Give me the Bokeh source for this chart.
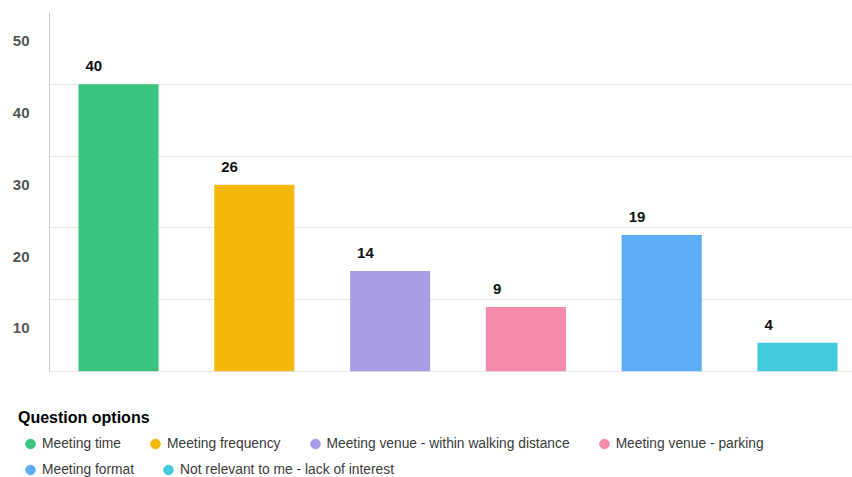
import numpy as np
from bokeh.plotting import figure
from bokeh.layouts import column
from bokeh.core.properties import value
from bokeh.models import (ColumnDataSource, Range1d, LinearAxis, FixedTicker, Grid,
                          LabelSet, Legend, LegendItem, Span)
from bokeh.embed import file_html
from bokeh.resources import INLINE

categories = ["Meeting time", "Meeting frequency",
              "Meeting venue - within walking distance", "Meeting venue - parking",
              "Meeting format", "Not relevant to me - lack of interest"]
counts = [40, 26, 14, 9, 19, 4]
colors = ["#3cc47f", "#f4b70c", "#a99ee6", "#f48bab", "#5eacf6", "#43cadc"]
y_ticks = [10, 20, 30, 40, 50]
grid_ticks = [0, 10, 20, 30, 40, 50]
legend_title = "Question options"

FONT = "Liberation Sans"
pos = list(range(len(categories)))

src = ColumnDataSource(dict(
    x=pos, top=counts, color=colors, cat=categories,
    lab=[str(c) for c in counts], nan=np.full(len(categories), np.nan)))

# ---------------- chart ----------------
p = figure(width=852, height=373,
           x_range=Range1d(-0.508, 5.405), y_range=Range1d(0, 50),
           x_axis_location=None, y_axis_location=None,
           toolbar_location=None, output_backend="svg",
           min_border_left=49, min_border_right=0,
           min_border_top=12, min_border_bottom=2)
p.outline_line_color = None
p.background_fill_color = "white"
p.border_fill_color = "white"
for g in p.xgrid + p.ygrid:
    g.visible = False

p.add_layout(Grid(dimension=1, ticker=FixedTicker(ticks=grid_ticks),
                  grid_line_color="#e6e6e6", grid_line_width=1))
p.add_layout(Span(location=0, dimension="width", line_color="#cfcfcf", line_width=1))

# y labels sit slightly below their gridlines, as in the reference
p.extra_y_ranges = {"lab": Range1d(4, 54)}
yax = LinearAxis(y_range_name="lab", ticker=FixedTicker(ticks=y_ticks),
                 axis_line_color="#cccccc", axis_line_width=1,
                 major_tick_line_color=None, minor_tick_line_color=None,
                 major_tick_in=0, major_tick_out=0, major_label_standoff=20,
                 major_label_text_font=FONT, major_label_text_font_size="15px",
                 major_label_text_font_style="bold", major_label_text_color="#555555")
p.add_layout(yax, "left")

p.vbar(x="x", top="top", bottom=0, width=0.59, color="color", line_color=None, source=src)

labels = LabelSet(x="x", y="top", text="lab", source=src, x_offset=-33, y_offset=13,
                  text_align="left", text_baseline="alphabetic",
                  text_font=value(FONT), text_font_size=value("15px"),
                  text_font_style=value("bold"), text_color=value("#111111"))
p.add_layout(labels)

# ---------------- legend panel ----------------
q = figure(width=852, height=104, x_range=Range1d(0, 1), y_range=Range1d(0, 1),
           x_axis_location=None, y_axis_location=None,
           toolbar_location=None, output_backend="svg",
           min_border_left=0, min_border_right=0, min_border_top=0, min_border_bottom=0)
q.outline_line_color = None
q.background_fill_color = "white"
q.border_fill_color = "white"
for g in q.xgrid + q.ygrid:
    g.visible = False

r = q.scatter(x="x", y="nan", color="color", size=10, source=src)

common = dict(orientation="horizontal", glyph_width=24, glyph_height=25,
              label_standoff=0, spacing=22, padding=0, margin=0,
              border_line_color=None, background_fill_alpha=0,
              label_text_font=FONT, label_text_font_size="13.8px",
              label_text_color="#3a3a3a", label_height=20)
leg1 = Legend(items=[LegendItem(label=categories[i], renderers=[r], index=i) for i in range(4)],
              location=(18, 21), title=legend_title, title_standoff=4,
              title_text_font=FONT, title_text_font_size="16px",
              title_text_font_style="bold", title_text_color="#000000", **common)
leg2 = Legend(items=[LegendItem(label=categories[i], renderers=[r], index=i) for i in range(4, 6)],
              location=(18, -5), **common)
q.add_layout(leg1)
q.add_layout(leg2)

open("out.html", "w").write(file_html(column(p, column(q, spacing=0), spacing=0), INLINE))
